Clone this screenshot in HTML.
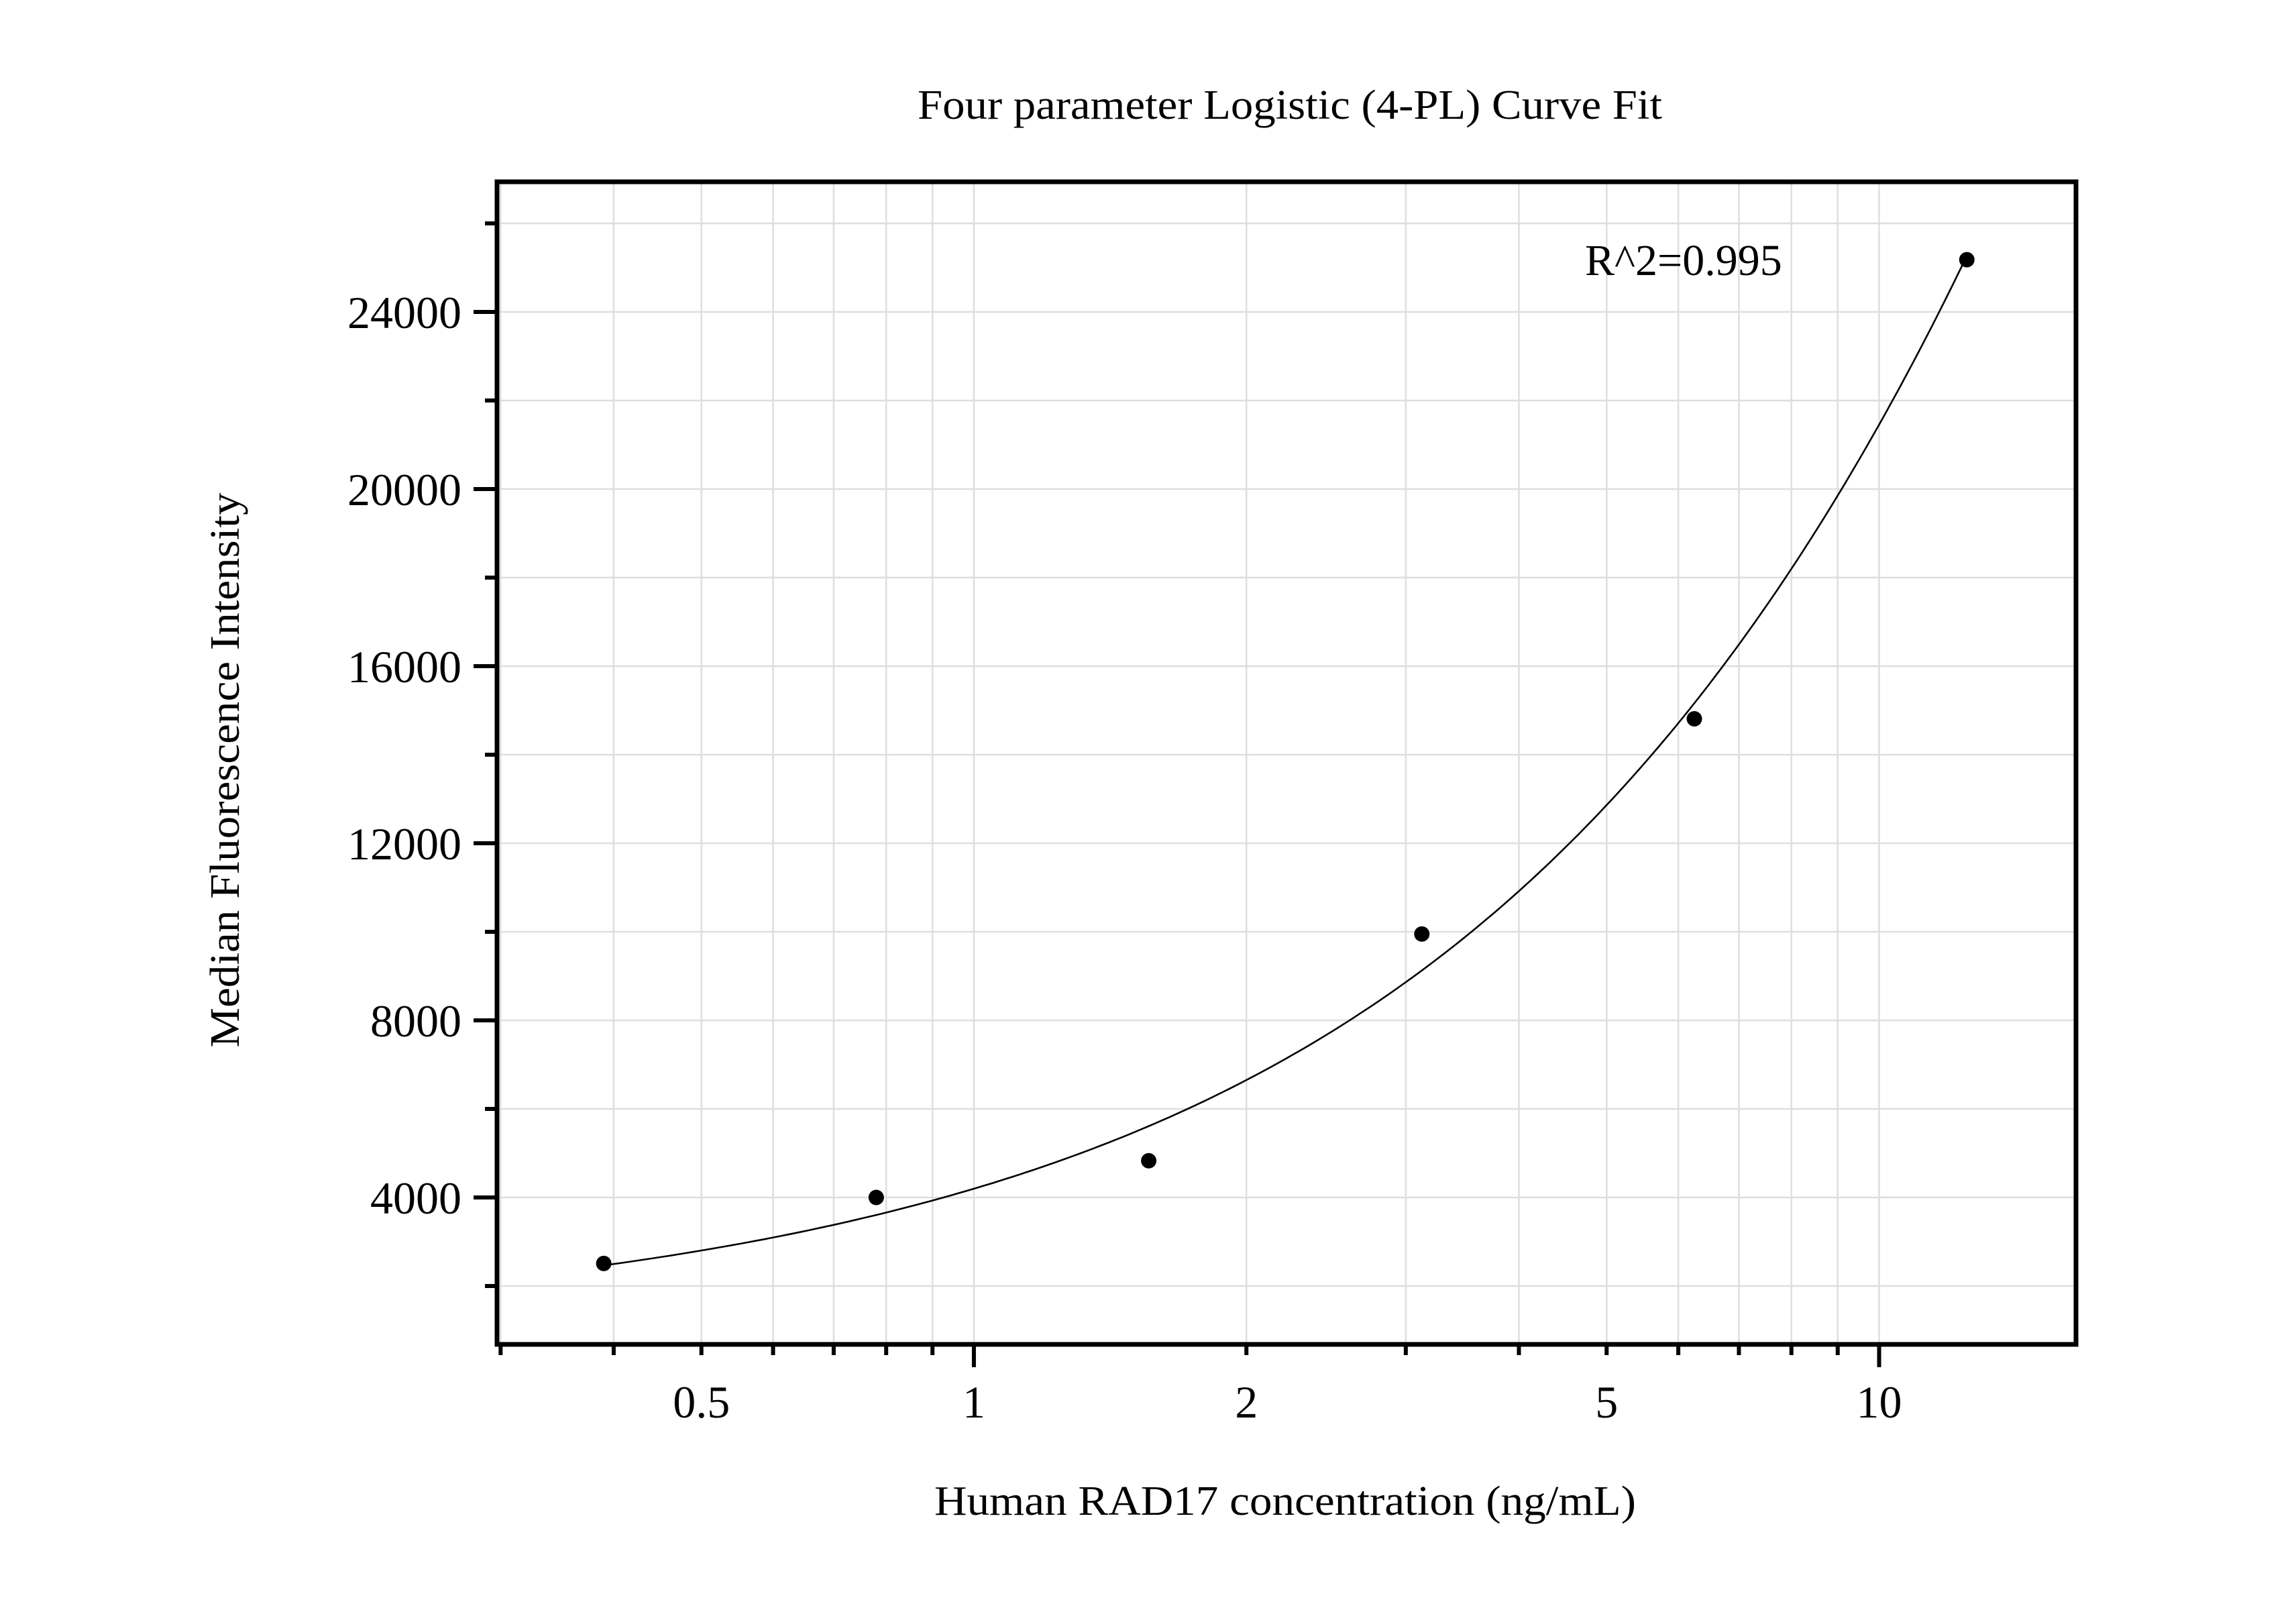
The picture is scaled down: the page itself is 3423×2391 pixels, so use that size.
<!DOCTYPE html>
<html><head><meta charset="utf-8"><style>
html,body{margin:0;padding:0;background:#fff;}
svg{display:block;}
text{font-family:"Liberation Serif","Times New Roman",serif;fill:#000;}
</style></head><body>
<svg id="chart" width="3423" height="2391" viewBox="0 0 3423 2391" xmlns="http://www.w3.org/2000/svg">
<rect width="3423" height="2391" fill="#fff"/>
<g id="grid"></g>
<g id="curve"></g>
<g id="points"></g>
<rect x="741" y="271" width="2354" height="1733" fill="none" stroke="#000" stroke-width="7"/>
<g id="ticks"></g>
<text x="1923" y="177" font-size="62" text-anchor="middle" textLength="1110" lengthAdjust="spacingAndGlyphs">Four parameter Logistic (4-PL) Curve Fit</text>
<text x="2363" y="410" font-size="66">R^2=0.995</text>
<text x="1916" y="2258" font-size="62" text-anchor="middle" textLength="1046" lengthAdjust="spacingAndGlyphs">Human RAD17 concentration (ng/mL)</text>
<text transform="translate(356,1148) rotate(-90)" font-size="62" text-anchor="middle" textLength="827" lengthAdjust="spacingAndGlyphs">Median Fluorescence Intensity</text>
</svg>
<script>
const xValues = [0.39, 0.78, 1.56, 3.125, 6.25, 12.5];
const yValues = [2510, 4000, 4830, 9950, 14810, 25180];
const yTickLabels = [4000, 8000, 12000, 16000, 20000, 24000];
const xTickLabels = [0.5, 1, 2, 5, 10];
const fitA = 1000, fitB = 0.835, fitC = 200, fitD = 271000;

const L=741,R=3095,T=271,B=2004;
const xMin=Math.log10(0.2973), xMax=Math.log10(16.5);
const yMin=682, yMax=26939;
function sx(v){return L+(Math.log10(v)-xMin)/(xMax-xMin)*(R-L);}
function sy(v){return B-(v-yMin)/(yMax-yMin)*(B-T);}
const NS="http://www.w3.org/2000/svg";
function mk(tag,attrs,parent){const e=document.createElementNS(NS,tag);for(const k in attrs)e.setAttribute(k,attrs[k]);parent.appendChild(e);return e;}
const grid=document.getElementById('grid'),ticks=document.getElementById('ticks');
for(let v=2000;v<=26000;v+=2000){
  const y=sy(v);
  const g=mk('line',{x1:L,x2:R,y1:y,y2:y,stroke:'#dedede','stroke-width':2.5},grid);
  
  
  const major=v%4000===0;
  const t=mk('line',{x1:major?706:723,x2:L,y1:y,y2:y,stroke:'#000','stroke-width':6},ticks);
  
  
}
const xs=[];
[0.1,1,10].forEach(d=>{for(let i=1;i<10;i++){const v=i*d;if(v>=0.3&&v<=16)xs.push(v);}});
xs.forEach(v=>{
  const x=sx(v);
  const g=mk('line',{x1:x,x2:x,y1:T,y2:B,stroke:'#dedede','stroke-width':2.5},grid);
  
  
  const major=Math.abs(v-1)<1e-9||Math.abs(v-10)<1e-9;
  const t=mk('line',{x1:x,x2:x,y1:B,y2:major?2038:2020,stroke:'#000','stroke-width':6},ticks);
  
  
});
yTickLabels.forEach(v=>{
  const t=mk('text',{x:688,y:sy(v)+24,'font-size':68,'text-anchor':'end'},ticks);
  t.textContent=v;
  
  
});
xTickLabels.forEach(v=>{
  const t=mk('text',{x:sx(v),y:2113,'font-size':68,'text-anchor':'middle'},ticks);
  t.textContent=v;
  
  
});
function fit(x){const p=Math.pow(x/fitC,fitB);return fitA+(fitD-fitA)*p/(1+p);}
let d='';
const x0=Math.log10(xValues[0]),x1=Math.log10(xValues[xValues.length-1]);
for(let i=0;i<=200;i++){const lx=x0+(x1-x0)*i/200;const x=Math.pow(10,lx);d+=(i?'L':'M')+sx(x).toFixed(1)+','+sy(fit(x)).toFixed(1);}
const c=mk('path',{d:d,fill:'none',stroke:'#000','stroke-width':2.6},document.getElementById('curve'));


xValues.forEach((v,i)=>{
  const p=mk('circle',{cx:sx(v),cy:sy(yValues[i]),r:11.5,fill:'#000'},document.getElementById('points'));
  
  
});
</script>
</body></html>
